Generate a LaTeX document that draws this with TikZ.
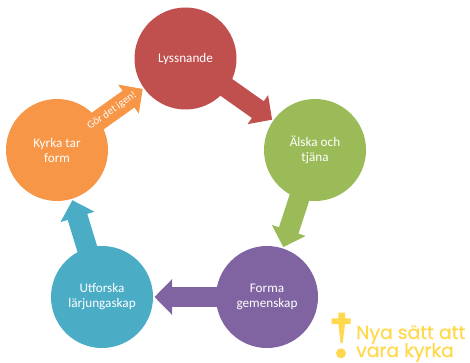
\documentclass[tikz,border=0pt]{standalone}
\usepackage{fontspec}
\setmainfont{Carlito}
\newfontfamily\logofont[FakeBold=0.5]{Poppins}
\usetikzlibrary{arrows.meta, calc, backgrounds}
\definecolor{stepred}{HTML}{C0504D}
\definecolor{stepgreen}{HTML}{9BBB59}
\definecolor{steppurple}{HTML}{8064A2}
\definecolor{stepblue}{HTML}{4BACC6}
\definecolor{steporange}{HTML}{F79646}
\definecolor{logoyellow}{HTML}{FFD84D}
\tikzset{
  stepcircle/.style={circle, minimum size=102pt, inner sep=0pt, outer sep=1.5pt, text=white, align=center, font=\fontsize{13.2}{15}\selectfont},
  fatarrow/.style={line width=20.5pt, -{Triangle[length=17.5pt, width=34.5pt]}},
  logotext/.style={anchor=base west, inner sep=0pt, text=logoyellow, font=\logofont\fontsize{18.8}{20}\selectfont}
}

\begin{document}
\begin{tikzpicture}[x=1pt, y=-1pt]
\useasboundingbox (0,0) rectangle (470,363);
% Nodes
\node[stepcircle, fill=stepred] (lyss) at (185.5,58.5) {Lyssnande};
\node[stepcircle, fill=stepgreen] (alska) at (315,150) {Älska och\\tjäna};
\node[stepcircle, fill=steppurple] (forma) at (267,297) {Forma\\gemenskap};
\node[stepcircle, fill=stepblue] (utforska) at (102,297) {Utforska\\lärjungaskap};
\node[stepcircle, fill=steporange] (kyrka) at (57,150) {Kyrka tar\\form};

% Arrows
\begin{scope}[on background layer]
\draw[fatarrow, stepred] (lyss.center) -- (alska);
\draw[fatarrow, stepgreen] (alska.center) -- (forma);
\draw[fatarrow, steppurple] (forma.center) -- (utforska);
\draw[fatarrow, stepblue] (utforska.center) -- (kyrka);
\draw[fatarrow, steporange] (kyrka.center) -- (lyss);
\end{scope}
\node[text=white, inner sep=0pt, rotate=35.5, font=\fontsize{10.8}{12}\selectfont] (igen) at ($(kyrka)!0.428!(lyss)$) {Gör det igen!};

% Logo
\fill[logoyellow] (338.3,312.7) -- (345,312.7) -- (345,318.3) -- (350.7,318.3) -- (350.7,324) -- (345,324) -- (342.6,343) -- (340.6,343) -- (338.3,324) -- (331.7,324) -- (331.7,318.3) -- (338.3,318.3) -- cycle;
\fill[logoyellow] (341,353.3) circle (5);
\node[logotext] (nya) at (356,339) {Nya sätt att};
\node[logotext] (vara) at (356,357) {vara kyrka};
\end{tikzpicture}
\end{document}
